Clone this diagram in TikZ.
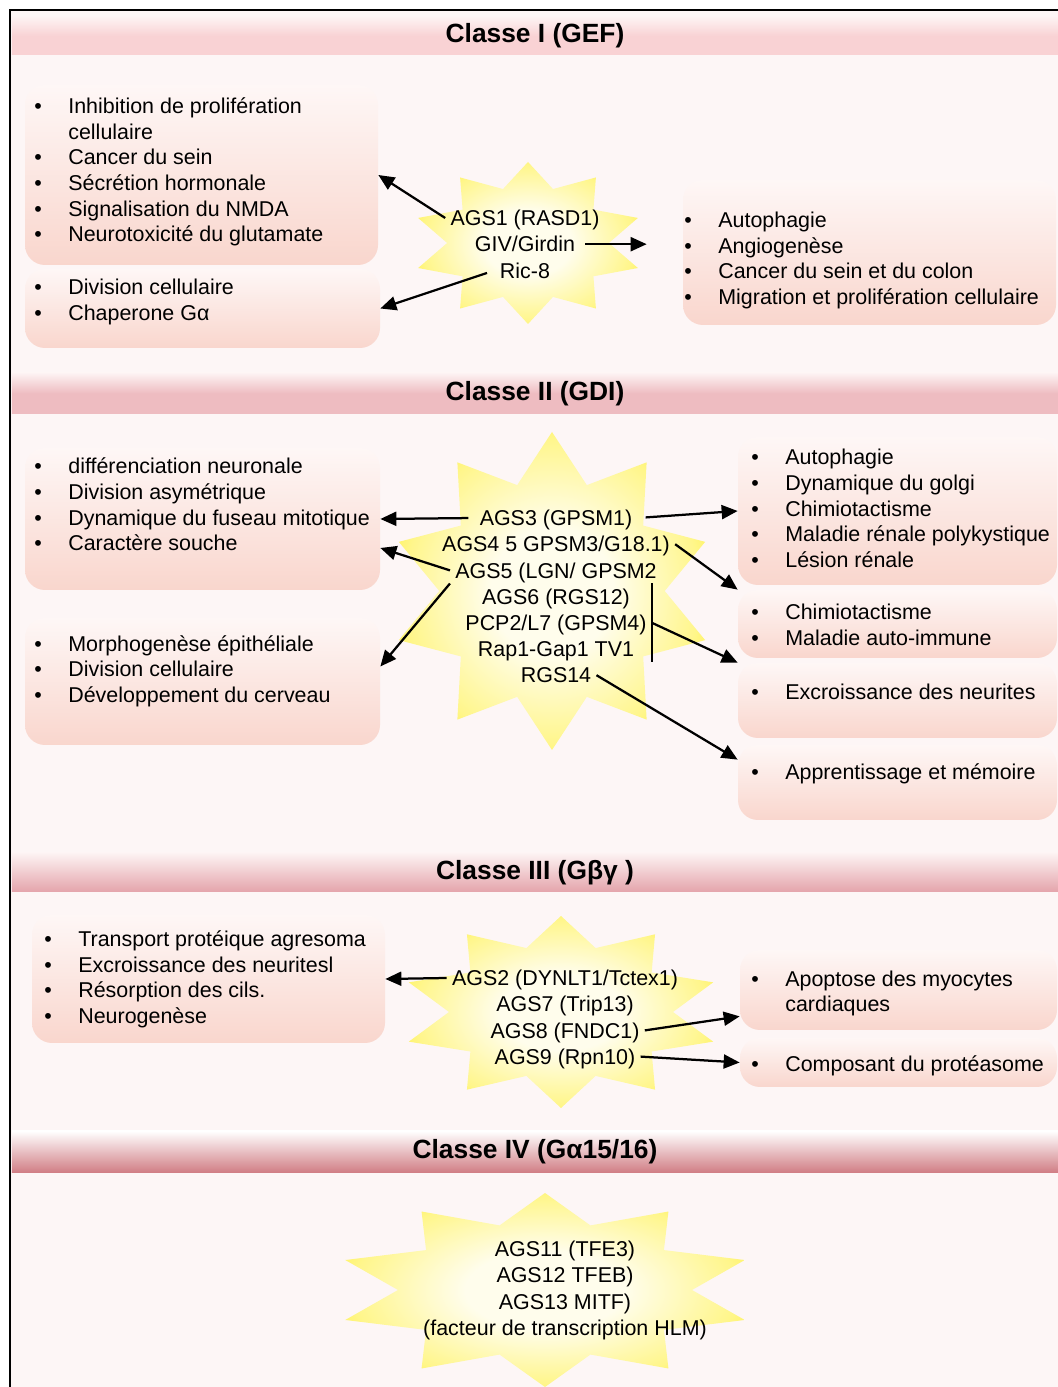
\documentclass[tikz,border=0pt]{standalone}
\usepackage{fontspec}
\setmainfont{Liberation Sans}
\usetikzlibrary{arrows.meta, positioning}

\definecolor{paper}{RGB}{253,246,246}
\definecolor{boxtop}{RGB}{254,247,246}
\definecolor{boxbot}{RGB}{249,214,205}
\definecolor{bandtop}{RGB}{253,243,243}
\definecolor{bandI}{RGB}{249,210,212}
\definecolor{bandII}{RGB}{238,188,193}
\definecolor{bandIII}{RGB}{228,164,171}
\definecolor{bandIV}{RGB}{208,124,131}
\definecolor{starcore}{RGB}{255,253,236}
\definecolor{starmid}{RGB}{255,246,140}
\definecolor{startip}{RGB}{255,240,40}

\pgfdeclareradialshading{burstglow}{\pgfpoint{0bp}{0bp}}{color(0bp)=(starcore); color(10bp)=(starcore); color(24bp)=(starmid); color(32bp)=(startip); color(50bp)=(startip)}

\newcommand\bodyfont{\fontsize{12.2}{14.6}\selectfont}
\newcommand\itm[1]{\makebox[0.68cm][l]{\textbullet}#1}
\newcommand\cont[1]{\hspace*{0.68cm}#1}
\newcommand\burst[3]{%
  \begin{scope}[shift={(#1)}]
    \shade[shading=burstglow] (90:#2 and #3)
      \foreach \k [evaluate=\k as \rad using {1-0.3*mod(\k,2)}] in {1,...,19} {
        -- ({90+18*\k}:{\rad*#2} and {\rad*#3})} -- cycle;
  \end{scope}}

\begin{document}
\begin{tikzpicture}[
    band/.style={minimum width=20.92cm, inner sep=0pt, top color=bandtop,
      font=\bfseries\fontsize{15}{18}\selectfont},
    panel/.style={rounded corners=0.4cm, top color=boxtop, bottom color=boxbot, inner sep=0pt},
    items/.style={anchor=west, align=left, inner sep=0pt, font=\bodyfont},
    gene/.style={inner xsep=0.1cm, inner ysep=0pt, text height=0.41cm, text depth=0.1cm,
      font=\bodyfont},
    arr/.style={-{Triangle[length=0.32cm,width=0.28cm]}, line width=0.045cm},
  ]
  \useasboundingbox (0,0) rectangle (21.16,27.74);
  \fill[white] (0,0) rectangle (21.16,27.74);
  \fill[paper] (0.2,0) rectangle (21.16,27.54);
  \draw[line width=0.05cm] (0.2,0) -- (0.2,27.54) -- (21.16,27.54);

  \coordinate (s1) at (10.56,22.88);
  \coordinate (s2) at (11.04,15.92);
  \coordinate (s3) at (11.22, 7.50);
  \coordinate (s4) at (10.90, 1.94);

  \node[band, minimum height=0.76cm, bottom color=bandI, middle color=bandI]   (b1) at (10.70,27.02) {Classe I (GEF)};
  \node[band, minimum height=0.82cm, bottom color=bandII, middle color=bandII] (b2) at (10.70,19.87) {Classe II (GDI)};
  \node[band, minimum height=0.78cm, bottom color=bandIII]                      (b3) at (10.70,10.29) {Classe III (Gβγ )};
  \node[band, minimum height=0.84cm, top color=white, bottom color=bandIV]     (b4) at (10.70, 4.70) {Classe IV (Gα15/16)};

  \node[panel, minimum width=7.06cm, minimum height=3.60cm] (l1a) at ( 4.03,24.24) {};
  \node[panel, minimum width=7.10cm, minimum height=1.58cm] (l1b) at ( 4.05,21.57) {};
  \node[panel, minimum width=7.46cm, minimum height=2.90cm] (r1)  at (17.39,22.69) {};
  \node[panel, minimum width=7.10cm, minimum height=2.84cm] (l2a) at ( 4.05,17.36) {};
  \node[panel, minimum width=7.10cm, minimum height=2.54cm] (l2b) at ( 4.05,14.11) {};
  \node[panel, minimum width=6.38cm, minimum height=2.96cm] (r2a) at (17.95,17.52) {};
  \node[panel, minimum width=6.38cm, minimum height=1.36cm] (r2b) at (17.95,15.26) {};
  \node[panel, minimum width=6.38cm, minimum height=1.50cm] (r2c) at (17.95,13.73) {};
  \node[panel, minimum width=6.38cm, minimum height=1.50cm] (r2d) at (17.95,12.09) {};
  \node[panel, minimum width=7.06cm, minimum height=2.56cm] (l3)  at ( 4.17, 8.16) {};
  \node[panel, minimum width=6.34cm, minimum height=1.60cm] (r3a) at (17.97, 7.94) {};
  \node[panel, minimum width=6.34cm, minimum height=0.98cm] (r3b) at (17.97, 6.49) {};

  \burst{s1}{2.31}{1.62}
  \burst{s2}{3.22}{3.18}
  \burst{s3}{3.20}{1.92}
  \burst{s4}{4.20}{1.94}

  \node[items] (l1a-txt) at (0.68,24.30) {\itm{Inhibition de prolifération}\\ \cont{cellulaire}\\
    \itm{Cancer du sein}\\ \itm{Sécrétion hormonale}\\ \itm{Signalisation du NMDA}\\
    \itm{Neurotoxicité du glutamate}};
  \node[items] (l1b-txt) at (0.68,21.70) {\itm{Division cellulaire}\\ \itm{Chaperone Gα}};
  \node[items] (r1-txt) at (13.68,22.53) {\itm{Autophagie}\\ \itm{Angiogenèse}\\
    \itm{Cancer du sein et du colon}\\ \itm{Migration et prolifération cellulaire}};
  \node[items] (l2a-txt) at (0.68,17.65) {\itm{différenciation neuronale}\\ \itm{Division asymétrique}\\
    \itm{Dynamique du fuseau mitotique}\\ \itm{Caractère souche}};
  \node[items] (l2b-txt) at (0.68,14.32) {\itm{Morphogenèse épithéliale}\\ \itm{Division cellulaire}\\
    \itm{Développement du cerveau}};
  \node[items] (r2a-txt) at (15.02,17.57) {\itm{Autophagie}\\ \itm{Dynamique du golgi}\\
    \itm{Chimiotactisme}\\ \itm{Maladie rénale polykystique}\\ \itm{Lésion rénale}};
  \node[items] (r2b-txt) at (15.02,15.24) {\itm{Chimiotactisme}\\ \itm{Maladie auto-immune}};
  \node[items] (r2c-txt) at (15.02,13.90) {\itm{Excroissance des neurites}};
  \node[items] (r2d-txt) at (15.02,12.26) {\itm{Apprentissage et mémoire}};
  \node[items] (l3-txt) at (0.88,8.15) {\itm{Transport protéique agresoma}\\ \itm{Excroissance des neuritesl}\\
    \itm{Résorption des cils.}\\ \itm{Neurogenèse}};
  \node[items] (r3a-txt) at (15.02,7.87) {\itm{Apoptose des myocytes}\\ \cont{cardiaques}};
  \node[items] (r3b-txt) at (15.02,6.42) {\itm{Composant du protéasome}};

  \node[gene] (ags1) at (10.50,23.38) {AGS1 (RASD1)};
  \node[gene, below=0pt of ags1] (giv) {GIV/Girdin};
  \node[gene, below=0pt of giv] (ric8) {Ric-8};

  \node[gene] (ags3) at (11.12,17.38) {AGS3 (GPSM1)};
  \node[gene, below=0pt of ags3] (ags4) {AGS4 5 GPSM3/G18.1)};
  \node[gene, below=0pt of ags4] (ags5) {AGS5 (LGN/ GPSM2};
  \node[gene, below=0pt of ags5] (ags6) {AGS6 (RGS12)};
  \node[gene, below=0pt of ags6] (pcp2) {PCP2/L7 (GPSM4)};
  \node[gene, below=0pt of pcp2] (rap1) {Rap1-Gap1 TV1};
  \node[gene, below=0pt of rap1] (rgs14) {RGS14};

  \node[gene] (ags2) at (11.30,8.18) {AGS2 (DYNLT1/Tctex1)};
  \node[gene, below=0pt of ags2] (ags7) {AGS7 (Trip13)};
  \node[gene, below=0pt of ags7] (ags8) {AGS8 (FNDC1)};
  \node[gene, below=0pt of ags8] (ags9) {AGS9 (Rpn10)};

  \node[gene] (ags11) at (11.30,2.76) {AGS11 (TFE3)};
  \node[gene, below=0pt of ags11] (ags12) {AGS12 TFEB)};
  \node[gene, below=0pt of ags12] (ags13) {AGS13 MITF)};
  \node[gene, below=0pt of ags13] (hlm) {(facteur de transcription HLM)};

  \draw[arr] (ags1.west) -- (l1a.east);
  \draw[arr, shorten <=0.1cm, shorten >=0.72cm] (giv.east) -- (giv.east -| r1.west);
  \draw[arr, shorten <=0.16cm] (ric8.west) -- (l1b.east);

  \draw[arr, shorten <=0.12cm] (ags3.west) -- (l2a.east);
  \draw[arr, shorten <=0.16cm] (ags3.east) -- (r2a.west);
  \draw[arr] (ags4.east) -- (r2b.north west);
  \draw[arr] (ags5.west) -- ([yshift=-0.58cm]l2a.east);
  \draw[arr] (ags5.south west) -- ([yshift=0.3cm]l2b.east);
  \draw[line width=0.04cm] (pcp2.east |- ags6.north) -- (pcp2.east |- rap1.south);
  \draw[arr] (pcp2.east) -- (r2c.north west);
  \draw[arr] (rgs14.east) -- ([yshift=-0.3cm]r2d.north west);

  \draw[arr] (ags2.west) -- (l3.east);
  \draw[arr] (ags8.east) -- ([yshift=0.28cm]r3a.south west);
  \draw[arr] (ags9.east) -- (r3b.west);
\end{tikzpicture}
\end{document}
